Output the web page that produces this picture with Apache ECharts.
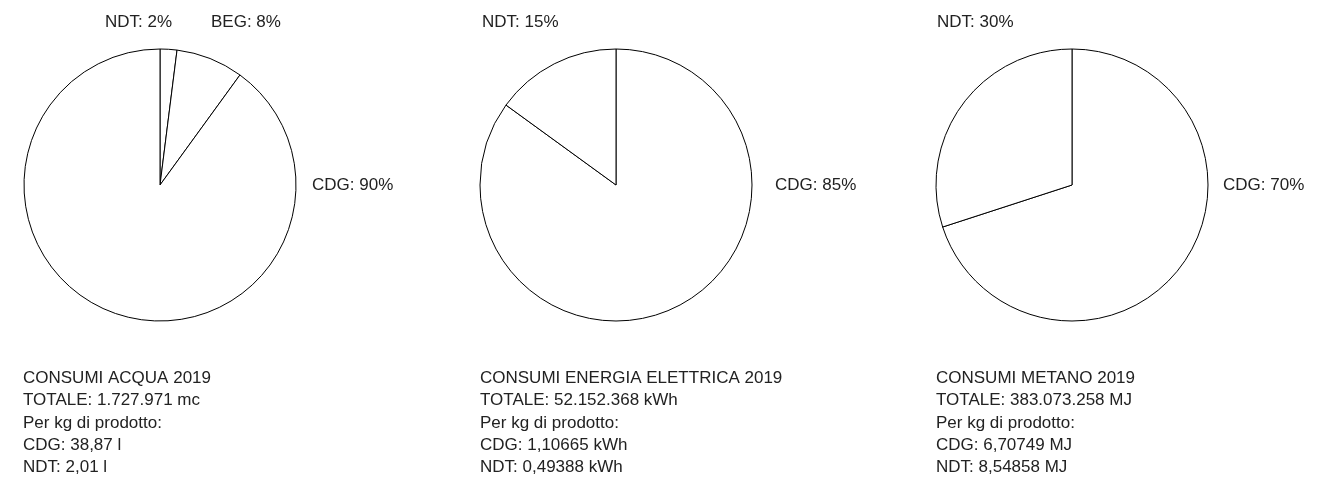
<!DOCTYPE html>
<html>
<head>
<meta charset="utf-8">
<script src="https://cdn.jsdelivr.net/npm/echarts@6/dist/echarts.min.js"></script>
<style>
  html, body { margin: 0; padding: 0; background: #fff; }
  #chart { width: 1343px; height: 480px; }
</style>
</head>
<body>
<div id="chart"></div>
<script>
// ---- data ----
const acquaNames = ['NDT', 'BEG', 'CDG'];
const acquaValues = [2, 8, 90];
const energiaNames = ['CDG', 'NDT'];
const energiaValues = [85, 15];
const metanoNames = ['CDG', 'NDT'];
const metanoValues = [70, 30];

const acquaInfo = ['CONSUMI ACQUA 2019', 'TOTALE: 1.727.971 mc', 'Per kg di prodotto:', 'CDG: 38,87 l', 'NDT: 2,01 l'];
const energiaInfo = ['CONSUMI ENERGIA ELETTRICA 2019', 'TOTALE: 52.152.368 kWh', 'Per kg di prodotto:', 'CDG: 1,10665 kWh', 'NDT: 0,49388 kWh'];
const metanoInfo = ['CONSUMI METANO 2019', 'TOTALE: 383.073.258 MJ', 'Per kg di prodotto:', 'CDG: 6,70749 MJ', 'NDT: 8,54858 MJ'];

// ---- layout ----
const FONT = '"Liberation Sans", Arial, sans-serif';
const TEXT_COLOR = '#222';
const R = 136;
const CY = 185;
const pies = [
  { names: acquaNames, values: acquaValues, cx: 160, info: acquaInfo, infoX: 23,
    labelPos: { NDT: [105, 24], BEG: [211, 24], CDG: [312, 187] } },
  { names: energiaNames, values: energiaValues, cx: 616, info: energiaInfo, infoX: 480,
    labelPos: { NDT: [482, 24], CDG: [775, 187] } },
  { names: metanoNames, values: metanoValues, cx: 1072, info: metanoInfo, infoX: 936,
    labelPos: { NDT: [937, 24], CDG: [1223, 187] } }
];

const series = pies.map(p => ({
  type: 'pie',
  center: [p.cx, CY],
  radius: R,
  startAngle: 90,
  clockwise: true,
  silent: true,
  label: { show: false },
  labelLine: { show: false },
  itemStyle: { color: '#fff', borderColor: '#000', borderWidth: 1 },
  emphasis: { disabled: true },
  data: p.names.map((n, i) => ({ name: n, value: p.values[i] }))
}));

const graphic = [];
pies.forEach(p => {
  const total = p.values.reduce((a, b) => a + b, 0);
  p.names.forEach((n, i) => {
    const pos = p.labelPos[n];
    graphic.push({
      type: 'text', left: pos[0], top: pos[1] - 10,
      style: { text: n + ': ' + Math.round(p.values[i] / total * 100) + '%',
               font: '17px ' + FONT, fill: TEXT_COLOR }
    });
  });
  p.info.forEach((line, j) => {
    graphic.push({
      type: 'text', left: p.infoX, top: 380 - 10 + j * 22.3,
      style: { text: line, font: '17px ' + FONT, fill: TEXT_COLOR }
    });
  });
});

const chart = echarts.init(document.getElementById('chart'), null, { renderer: 'canvas' });
chart.setOption({
  animation: false,
  backgroundColor: '#fff',
  series: series,
  graphic: graphic
});
</script>
</body>
</html>
